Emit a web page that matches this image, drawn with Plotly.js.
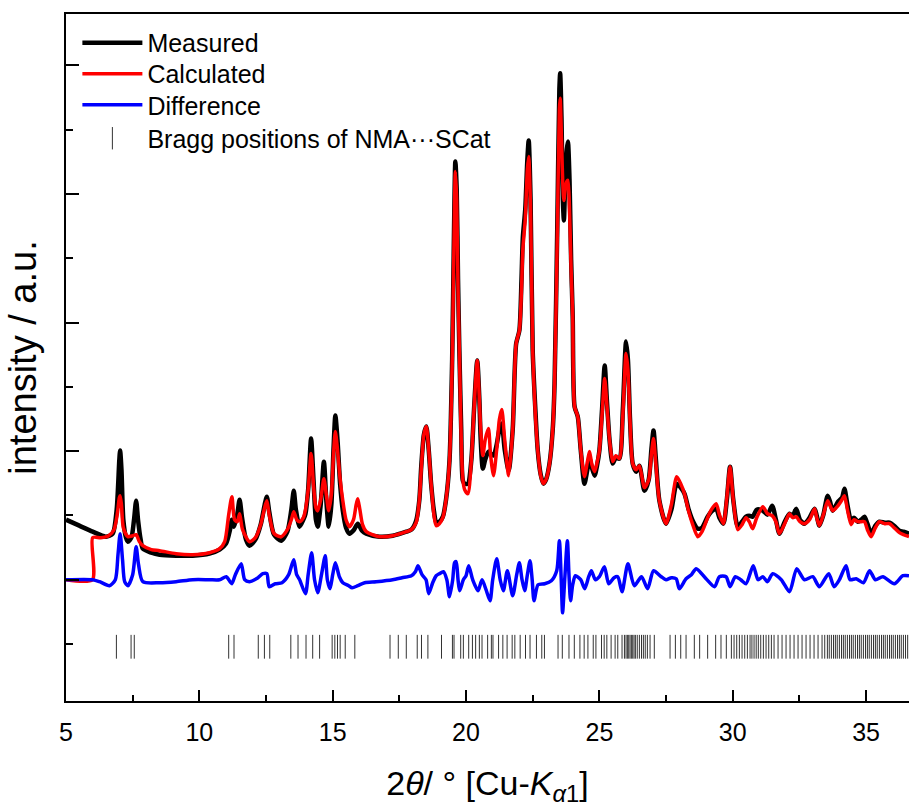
<!DOCTYPE html>
<html>
<head>
<meta charset="utf-8">
<script src="https://cdn.plot.ly/plotly-3.0.1.min.js"></script>
<style>html,body{margin:0;padding:0;background:#fff;}#chart{width:909px;height:807px;}</style>
</head>
<body>
<div id="chart"></div>
<script>
// Measured pattern (2theta in degrees, intensity a.u.)
const measX = [5.00,5.50,6.00,6.50,6.75,6.90,7.00,7.03,7.08,7.15,7.25,7.32,7.45,7.55,7.63,7.70,7.80,7.88,8.20,8.51,9.13,9.75,10.38,10.76,11.00,11.15,11.22,11.30,11.42,11.51,11.60,11.75,11.88,12.10,12.30,12.45,12.53,12.62,12.80,13.07,13.30,13.45,13.54,13.62,13.76,13.90,13.98,14.08,14.19,14.28,14.37,14.44,14.55,14.67,14.76,14.85,14.95,15.03,15.10,15.18,15.28,15.38,15.50,15.63,15.80,15.94,16.10,16.26,16.75,17.25,17.76,17.95,18.13,18.25,18.32,18.42,18.51,18.60,18.69,18.80,18.88,19.00,19.13,19.25,19.38,19.48,19.55,19.60,19.65,19.70,19.75,19.82,19.88,19.95,20.07,20.20,20.30,20.42,20.50,20.55,20.63,20.72,20.84,20.92,21.03,21.15,21.25,21.34,21.45,21.60,21.75,21.88,22.00,22.08,22.13,22.22,22.30,22.35,22.42,22.50,22.60,22.69,22.80,22.90,23.00,23.13,23.25,23.32,23.42,23.50,23.53,23.58,23.63,23.67,23.72,23.78,23.82,23.88,23.94,24.00,24.07,24.19,24.30,24.44,24.55,24.63,24.72,24.82,24.92,25.00,25.10,25.20,25.28,25.38,25.50,25.62,25.75,25.88,26.00,26.07,26.15,26.25,26.38,26.50,26.69,26.85,26.95,27.03,27.12,27.25,27.50,27.70,27.90,28.05,28.19,28.35,28.50,28.69,28.85,29.06,29.20,29.38,29.50,29.65,29.78,29.90,30.02,30.19,30.35,30.50,30.62,30.75,30.90,31.13,31.30,31.48,31.62,31.75,31.95,32.13,32.25,32.38,32.52,32.69,32.88,33.07,33.15,33.25,33.40,33.56,33.65,33.75,33.95,34.10,34.19,34.30,34.44,34.55,34.69,34.82,34.94,35.05,35.19,35.35,35.50,35.70,35.88,36.05,36.25,36.40,36.61];
const measY = [60,54,48,43,46,70,120,129,110,60,42,38,42,60,79,60,40,31,27,25,24,24,26,30,36,50,60,53,65,80,62,40,34,40,55,75,83,68,45,39,48,70,89,70,53,60,66,90,141,100,60,53,75,118,80,53,75,130,164,140,95,69,52,46,50,56,49,46,43,44,48,50,59,80,113,145,153,130,96,68,58,58,63,80,119,220,350,418,390,300,229,150,99,96,96,120,170,219,180,140,111,120,128,126,124,135,150,156,130,109,150,236,249,300,342,370,420,439,380,229,170,129,105,96,100,116,150,196,350,490,506,460,380,359,400,430,438,400,320,263,173,163,130,96,110,121,112,104,115,129,170,214,180,140,116,122,121,170,238,220,160,116,108,114,89,100,130,149,120,79,56,70,96,92,86,70,59,51,52,63,68,71,62,56,80,113,80,53,58,63,64,63,70,69,65,74,60,46,58,66,64,71,60,56,62,71,64,54,65,84,78,69,78,82,91,75,59,62,58,60,63,56,46,54,58,57,57,54,49,48,46];

// Calculated pattern
const calcX = [5.00,5.99,6.00,6.30,6.60,6.80,6.92,7.00,7.03,7.08,7.15,7.32,7.50,7.63,7.75,7.88,8.20,8.51,9.13,9.75,10.38,10.76,10.95,11.10,11.22,11.32,11.42,11.51,11.62,11.88,12.10,12.30,12.45,12.53,12.62,12.80,13.07,13.30,13.45,13.54,13.65,13.76,13.90,13.98,14.08,14.19,14.28,14.37,14.44,14.55,14.67,14.76,14.85,14.95,15.03,15.10,15.18,15.28,15.38,15.50,15.63,15.78,15.88,15.94,16.02,16.12,16.26,16.75,17.25,17.76,17.95,18.13,18.25,18.32,18.42,18.51,18.60,18.69,18.80,18.88,19.00,19.13,19.25,19.38,19.48,19.55,19.60,19.65,19.70,19.75,19.82,19.88,19.95,20.07,20.20,20.30,20.42,20.50,20.55,20.63,20.72,20.84,20.92,21.03,21.15,21.25,21.34,21.45,21.60,21.75,21.88,22.00,22.08,22.13,22.22,22.30,22.35,22.42,22.50,22.60,22.69,22.80,22.90,23.00,23.13,23.25,23.32,23.42,23.50,23.53,23.58,23.63,23.67,23.72,23.78,23.82,23.88,23.94,24.00,24.07,24.19,24.30,24.44,24.55,24.63,24.72,24.82,24.92,25.00,25.10,25.20,25.28,25.38,25.50,25.62,25.75,25.88,26.00,26.07,26.15,26.25,26.38,26.50,26.69,26.85,26.95,27.03,27.12,27.25,27.50,27.70,27.90,28.05,28.19,28.35,28.50,28.69,28.85,29.06,29.20,29.38,29.50,29.65,29.78,29.90,30.02,30.19,30.35,30.50,30.62,30.75,30.90,31.13,31.30,31.48,31.62,31.75,31.95,32.13,32.25,32.38,32.52,32.69,32.88,33.07,33.15,33.25,33.40,33.56,33.65,33.75,33.95,34.10,34.19,34.30,34.44,34.55,34.69,34.82,34.94,35.05,35.19,35.35,35.50,35.70,35.88,36.05,36.25,36.40,36.61];
const calcY = [0,0,42,42,44,50,65,82,84,75,52,43,44,45,38,34,30,29,26,25,27,31,38,65,83,60,58,66,50,38,42,55,72,79,65,46,43,50,60,68,60,58,62,70,90,126,95,72,69,80,101,85,69,85,125,148,130,100,79,60,53,60,75,81,70,55,48,43,44,48,50,57,80,110,145,153,130,96,64,54,56,62,80,119,215,340,408,380,290,229,140,100,90,86,120,170,219,180,150,124,140,151,125,104,130,160,170,140,104,150,236,249,290,330,360,410,423,370,229,165,129,104,96,100,116,150,196,340,470,481,440,395,379,390,398,399,370,310,263,173,163,130,103,118,128,115,108,118,129,165,201,175,140,118,124,121,165,226,210,158,116,110,114,92,100,125,141,115,79,56,75,103,96,86,68,55,43,48,62,70,76,65,56,82,113,80,50,55,62,58,51,62,73,66,64,58,46,56,66,62,63,58,56,60,71,62,54,65,79,74,69,74,80,84,70,55,60,58,58,58,50,43,52,58,56,56,52,47,45,43];

// Difference curve (measured - calculated)
const diffX = [5.00,6.00,6.26,6.63,6.85,6.95,7.03,7.12,7.20,7.32,7.50,7.63,7.72,7.88,8.51,9.13,9.75,10.38,10.76,11.01,11.15,11.22,11.35,11.57,11.70,11.88,12.20,12.38,12.53,12.62,12.85,13.10,13.35,13.54,13.65,13.76,13.98,14.08,14.21,14.32,14.44,14.58,14.72,14.80,14.90,15.00,15.10,15.25,15.38,15.60,15.73,15.94,16.20,16.63,17.25,17.60,17.95,18.10,18.20,18.35,18.50,18.60,18.75,18.88,19.00,19.15,19.28,19.38,19.50,19.57,19.63,19.70,19.76,19.90,20.00,20.10,20.25,20.45,20.60,20.75,20.90,21.00,21.15,21.28,21.40,21.55,21.75,21.90,22.00,22.10,22.20,22.30,22.40,22.48,22.55,22.70,22.95,23.20,23.40,23.50,23.57,23.62,23.70,23.80,23.86,23.92,24.00,24.10,24.30,24.45,24.60,24.70,24.85,25.00,25.19,25.35,25.55,25.69,25.85,26.07,26.31,26.58,26.81,27.03,27.32,27.50,27.70,27.88,28.00,28.25,28.45,28.63,29.00,29.32,29.50,29.75,29.90,30.10,30.30,30.50,30.77,30.95,31.13,31.30,31.50,31.82,32.13,32.40,32.69,33.00,33.25,33.60,33.80,34.00,34.25,34.40,34.63,34.90,35.13,35.35,35.63,36.06,36.38,36.61];
const diffY = [0,0,-2,-6,0,25,46,20,-2,-6,5,33,15,-2,-3,-2,0,0,0,3,-2,-4,5,16,0,-2,2,6,6,-7,-4,-3,5,20,5,0,-14,5,27,0,-13,5,24,0,-9,5,17,3,-3,-6,-8,-6,-3,-2,0,2,4,8,14,5,0,-14,-3,4,6,8,0,-17,0,17,18,0,-11,0,4,14,0,-11,0,-10,-21,0,21,0,-11,9,-16,5,17,0,-11,5,19,0,-21,-5,-4,-1,9,39,0,-33,0,39,5,-21,-5,4,0,-9,3,9,0,3,13,-4,2,3,-12,16,-6,3,-9,9,3,0,2,1,-9,1,5,11,1,-7,3,3,-7,3,0,-4,14,0,3,-2,6,0,-12,11,0,3,-7,6,-7,0,14,0,1,-3,9,0,3,-4,4,4];

// Bragg reflection positions (2theta)
const braggX = [6.89,7.44,7.56,11.10,11.30,12.21,12.44,12.64,13.43,13.70,14.00,14.25,14.51,14.98,15.08,15.18,15.28,15.47,15.83,17.15,17.46,17.76,18.17,18.33,18.57,19.08,19.49,19.55,19.80,19.90,20.10,20.24,20.36,20.50,20.60,20.81,20.95,21.01,21.22,21.38,21.54,21.73,21.83,22.03,22.23,22.40,22.64,22.84,22.94,23.45,23.61,23.86,24.06,24.27,24.43,24.57,24.77,24.87,25.08,25.18,25.28,25.44,25.59,25.69,25.85,25.94,26.00,26.05,26.10,26.15,26.20,26.25,26.30,26.35,26.42,26.50,26.58,26.65,26.72,26.80,26.90,27.06,27.65,27.85,28.05,28.25,28.56,28.76,29.06,29.36,29.56,29.76,29.95,30.05,30.15,30.25,30.35,30.45,30.55,30.65,30.72,30.80,30.88,30.96,31.05,31.15,31.25,31.35,31.45,31.55,31.70,31.85,32.00,32.15,32.30,32.45,32.60,32.75,32.90,33.05,33.20,33.35,33.45,33.55,33.62,33.70,33.78,33.85,33.92,34.00,34.08,34.15,34.22,34.30,34.38,34.45,34.52,34.60,34.68,34.75,34.82,34.90,34.98,35.05,35.12,35.20,35.28,35.35,35.42,35.50,35.58,35.65,35.72,35.80,35.88,35.95,36.02,36.10,36.18,36.25,36.32,36.40,36.48,36.56];
const braggLevel = -67;

const font = 'Liberation Sans, Arial, sans-serif';
const lineShape = {shape: 'spline', smoothing: 0.7};

const traces = [
  {x: measX, y: measY, type: 'scatter', mode: 'lines', name: 'Measured', legend: 'legend',
   line: Object.assign({color: '#000000', width: 4.5}, lineShape)},
  {x: calcX, y: calcY, type: 'scatter', mode: 'lines', name: 'Calculated', legend: 'legend2',
   line: Object.assign({color: '#ff0000', width: 3.5}, lineShape)},
  {x: diffX, y: diffY, type: 'scatter', mode: 'lines', name: 'Difference', legend: 'legend3',
   line: Object.assign({color: '#0000ff', width: 3.5}, lineShape)},
  {x: braggX, y: braggX.map(() => braggLevel), type: 'scatter', mode: 'markers', legend: 'legend4',
   name: 'Bragg positions of NMA\u00b7\u00b7\u00b7SCat',
   marker: {symbol: 'line-ns', size: 17, line: {color: '#333333', width: 1}}}
];

function leg(y) {
  return {x: 0.0135, y: y, xanchor: 'left', yanchor: 'middle',
          font: {family: font, size: 25, color: '#000'}, bgcolor: 'rgba(0,0,0,0)',
          borderwidth: 0, itemwidth: 60};
}

const layout = {
  width: 909, height: 807,
  margin: {l: 66, r: 0, t: 14, b: 106},
  paper_bgcolor: '#ffffff', plot_bgcolor: '#ffffff',
  font: {family: font, color: '#000000'},
  showlegend: true,
  legend: leg(0.9578),
  legend2: leg(0.9127),
  legend3: leg(0.8675),
  legend4: leg(0.8188),
  xaxis: {
    range: [5, 36.61], showgrid: false, zeroline: false,
    showline: true, linecolor: '#000', linewidth: 2, mirror: true,
    ticks: 'inside', ticklen: 11, tickwidth: 2, tickcolor: '#000',
    tick0: 5, dtick: 5, ticklabelstandoff: 8,
    minor: {ticks: 'inside', ticklen: 6, tickwidth: 2, tickcolor: '#000', dtick: 2.5, tick0: 5, showgrid: false},
    tickfont: {family: font, size: 25, color: '#000'},
    title: {text: '2<i>\u03b8</i>/ \u00b0 [Cu-<i>K</i><sub><i>\u03b1</i>1</sub>]', font: {family: font, size: 34, color: '#000'}, standoff: 31}
  },
  yaxis: {
    range: [-121.2, 565.3], showgrid: false, zeroline: false,
    showline: true, linecolor: '#000', linewidth: 2, mirror: false,
    ticks: 'inside', ticklen: 13, tickwidth: 2, tickcolor: '#000',
    tick0: 0, dtick: 128.5, showticklabels: false,
    minor: {ticks: 'inside', ticklen: 7, tickwidth: 2, tickcolor: '#000', dtick: 64.25, tick0: 0, showgrid: false},
    title: {text: 'intensity / a.u.', font: {family: font, size: 38, color: '#000'}, standoff: 16}
  }
};

Plotly.newPlot('chart', traces, layout, {displayModeBar: false, staticPlot: true});
</script>
</body>
</html>
